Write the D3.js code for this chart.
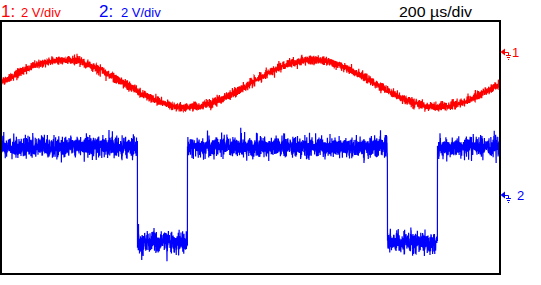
<!DOCTYPE html>
<html><head><meta charset="utf-8">
<script src="https://cdn.jsdelivr.net/npm/d3@7"></script>
<style>html,body{margin:0;padding:0;background:#fff;overflow:hidden}svg{display:block}</style>
</head><body><script>
// ---- data ----
const ch1SampleStep = 50; // µs between readings
const ch1Volts = [
 -2.00,-1.54,-1.12,-0.79,-0.57,-0.50,-0.57,-0.79,-1.12,-1.54,
 -2.00,-2.46,-2.88,-3.21,-3.43,-3.50,-3.43,-3.21,-2.88,-2.46,
 -2.00,-1.54,-1.12,-0.79,-0.57,-0.50,-0.57,-0.79,-1.12,-1.54,
 -2.00,-2.46,-2.88,-3.21,-3.43,-3.50,-3.43,-3.21,-2.88,-2.46,
 -2.00];
const ch2EdgeTimes = [0, 550, 750, 1550, 1750, 2000]; // µs
const ch2Levels = [3, -3, 3, -3, 3];                  // V
const channelNames = ["1", "2"];
const voltsPerDiv = [2, 2];
const groundOffsetDiv = [3, -1.5];
const noiseVolts = [0.14, 0.33];
const timePerDiv = 200; // µs
const hDivs = 10, vDivs = 8;
const scaleLabels = ["2 V/div", "2 V/div"];
const timebaseLabel = "200 µs/div";
const colors = ["#ff0000", "#0000ff"];

// ---- layout ----
const W = 541, H = 285;
const svg = d3.select("body").append("svg").attr("width", W).attr("height", H)
  .style("font-family", "'Liberation Sans', Arial, sans-serif");

const x = d3.scaleLinear().domain([0, hDivs * timePerDiv]).range([0, 500]);
const y = d3.scaleLinear().domain([-vDivs / 2, vDivs / 2]).range([274, 20]);

svg.append("defs").append("clipPath").attr("id", "clip")
  .append("rect").attr("x", 1).attr("y", 21).attr("width", 499).attr("height", 253);

// deterministic pseudo-noise for the trace texture
function hash(i, s) { const v = Math.sin(i * 12.9898 + s * 78.233) * 43758.5453; return v - Math.floor(v); }
function gauss(i, s) {
  const u1 = Math.max(1e-6, hash(i, s)), u2 = hash(i * 1.37 + 0.5, s + 17.3);
  return Math.sqrt(-2 * Math.log(u1)) * Math.cos(2 * Math.PI * u2);
}

const step = 0.5; // µs render step
const times = d3.range(0, hDivs * timePerDiv + step / 2, step);

function ch1At(t) {
  const f = t / ch1SampleStep, i = Math.min(Math.floor(f), ch1Volts.length - 2);
  return d3.interpolateNumber(ch1Volts[i], ch1Volts[i + 1])(f - i);
}
function ch2At(t) {
  const k = Math.max(0, Math.min(ch2Levels.length - 1, d3.bisectRight(ch2EdgeTimes, t) - 1));
  return ch2Levels[k];
}
const toDiv = (v, c) => v / voltsPerDiv[c] + groundOffsetDiv[c];

const line = d3.line().x(d => x(d[0])).y(d => y(d[1]));

const traces = svg.append("g").attr("clip-path", "url(#clip)");
[ch1At, ch2At].forEach((fn, c) => {
  const pts = times.map((t, i) => [t, toDiv(fn(t) + noiseVolts[c] * gauss(i, c + 1), c)]);
  traces.append("path").attr("d", line(pts)).attr("fill", "none")
    .attr("stroke", colors[c]).attr("stroke-width", 1.2);
});

// frame
svg.append("rect").attr("x", 1).attr("y", 21).attr("width", 499).attr("height", 253)
  .attr("fill", "none").attr("stroke", "#000").attr("stroke-width", 2);

// header labels
const hdrX = [[1, 21], [99, 121]];
[0, 1].forEach(c => {
  svg.append("text").attr("x", hdrX[c][0]).attr("y", 17).attr("font-size", 17)
    .attr("fill", colors[c]).text(channelNames[c] + ":");
  svg.append("text").attr("x", hdrX[c][1]).attr("y", 17).attr("font-size", 13)
    .attr("fill", colors[c]).text(scaleLabels[c]);
});
svg.append("text").attr("x", 399).attr("y", 17).attr("font-size", 14).attr("fill", "#000")
  .attr("textLength", 73).attr("lengthAdjust", "spacingAndGlyphs").text(timebaseLabel);

// ground markers
[0, 1].forEach(c => {
  const gy = Math.round(y(groundOffsetDiv[c]));
  const g = svg.append("g").attr("fill", colors[c]).attr("stroke", colors[c]);
  g.append("path").attr("d", `M500.5,${gy}L505,${gy - 3.5}L505,${gy + 3.5}Z`).attr("stroke", "none");
  g.append("path").attr("fill", "none").attr("stroke-width", 1)
    .attr("d", `M505,${gy + 0.5}H508.5V${gy + 3.5}M506,${gy + 3.5}H511M507,${gy + 5.5}H510M508,${gy + 7.5}H509`);
  g.append("text").attr("x", c === 0 ? 512 : 517).attr("y", gy + 5).attr("font-size", 13)
    .attr("stroke", "none").text(channelNames[c]);
});
</script></body></html>
